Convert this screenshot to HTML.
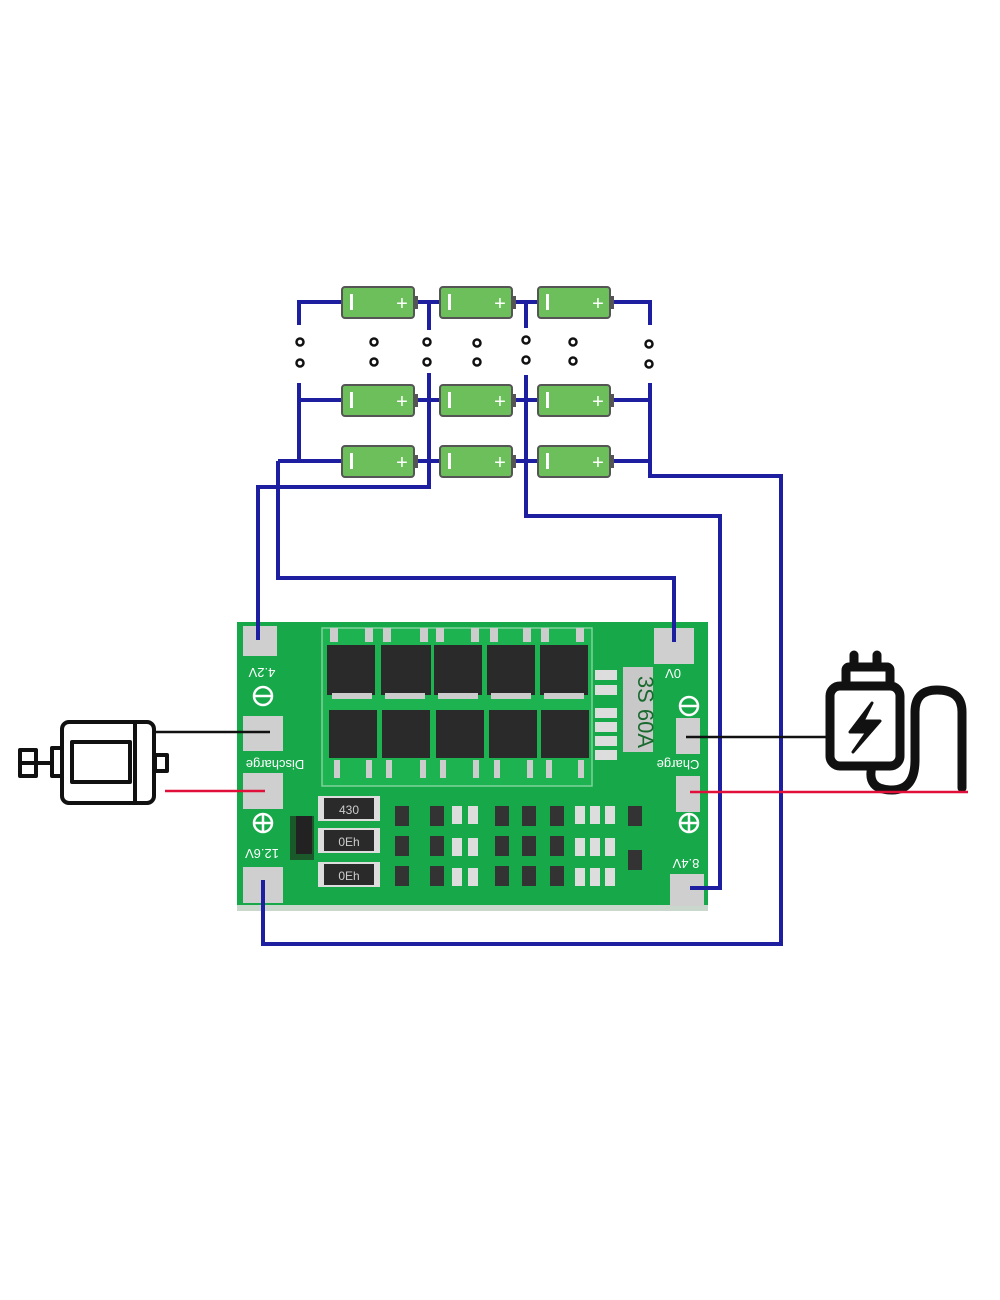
<!DOCTYPE html>
<html><head><meta charset="utf-8"><style>body{margin:0;background:#fff}svg{display:block}</style></head><body>
<svg width="1000" height="1300" viewBox="0 0 1000 1300" xmlns="http://www.w3.org/2000/svg" font-family="Liberation Sans, sans-serif">
<!-- board -->
<rect x="237" y="622" width="471" height="288" fill="#17a84a"/>
<rect x="237" y="905" width="471" height="6" fill="#c9d7cc"/>
<rect x="322" y="628" width="270" height="158" fill="#1db350" stroke="#7fd39a" stroke-width="1.5"/>
<g fill="#2a2a2a">
<rect x="327" y="645" width="48" height="50"/><rect x="381" y="645" width="50" height="50"/><rect x="434" y="645" width="48" height="50"/><rect x="487" y="645" width="48" height="50"/><rect x="540" y="645" width="48" height="50"/>
<rect x="329" y="710" width="48" height="48"/><rect x="382" y="710" width="48" height="48"/><rect x="436" y="710" width="48" height="48"/><rect x="489" y="710" width="48" height="48"/><rect x="541" y="710" width="48" height="48"/>
</g>
<g fill="#ccc"><rect x="332" y="693" width="40" height="6"/><rect x="385" y="693" width="40" height="6"/><rect x="438" y="693" width="40" height="6"/><rect x="491" y="693" width="40" height="6"/><rect x="544" y="693" width="40" height="6"/>
<rect x="330" y="628" width="8" height="14"/><rect x="365" y="628" width="8" height="14"/><rect x="383" y="628" width="8" height="14"/><rect x="420" y="628" width="8" height="14"/><rect x="436" y="628" width="8" height="14"/><rect x="471" y="628" width="8" height="14"/><rect x="490" y="628" width="8" height="14"/><rect x="523" y="628" width="8" height="14"/><rect x="541" y="628" width="8" height="14"/><rect x="576" y="628" width="8" height="14"/>
<rect x="334" y="760" width="6" height="18"/><rect x="366" y="760" width="6" height="18"/><rect x="386" y="760" width="6" height="18"/><rect x="420" y="760" width="6" height="18"/><rect x="440" y="760" width="6" height="18"/><rect x="473" y="760" width="6" height="18"/><rect x="494" y="760" width="6" height="18"/><rect x="527" y="760" width="6" height="18"/><rect x="546" y="760" width="6" height="18"/><rect x="578" y="760" width="6" height="18"/></g>
<g><rect x="318" y="796" width="62" height="25" fill="#ddd"/><rect x="324" y="798" width="50" height="21" fill="#2a2a2a"/>
<rect x="318" y="828" width="62" height="25" fill="#ddd"/><rect x="324" y="830" width="50" height="21" fill="#2a2a2a"/>
<rect x="318" y="862" width="62" height="25" fill="#ddd"/><rect x="324" y="864" width="50" height="21" fill="#2a2a2a"/>
<text x="349" y="814" fill="#ccc" font-size="12" text-anchor="middle">430</text><text x="349" y="846" fill="#ccc" font-size="12" text-anchor="middle">0Eh</text><text x="349" y="880" fill="#ccc" font-size="12" text-anchor="middle">0Eh</text></g>
<rect x="290" y="816" width="24" height="44" fill="#1a5a2a"/><rect x="296" y="816" width="16" height="38" fill="#222"/>
<g fill="#333"><rect x="395" y="806" width="14" height="20"/><rect x="430" y="806" width="14" height="20"/><rect x="495" y="806" width="14" height="20"/><rect x="522" y="806" width="14" height="20"/><rect x="550" y="806" width="14" height="20"/><rect x="628" y="806" width="14" height="20"/>
<rect x="395" y="836" width="14" height="20"/><rect x="430" y="836" width="14" height="20"/><rect x="495" y="836" width="14" height="20"/><rect x="522" y="836" width="14" height="20"/><rect x="550" y="836" width="14" height="20"/><rect x="628" y="850" width="14" height="20"/>
<rect x="395" y="866" width="14" height="20"/><rect x="430" y="866" width="14" height="20"/><rect x="495" y="866" width="14" height="20"/><rect x="522" y="866" width="14" height="20"/><rect x="550" y="866" width="14" height="20"/></g>
<g fill="#ddd"><rect x="452" y="806" width="10" height="18"/><rect x="468" y="806" width="10" height="18"/><rect x="575" y="806" width="10" height="18"/><rect x="590" y="806" width="10" height="18"/><rect x="605" y="806" width="10" height="18"/>
<rect x="452" y="838" width="10" height="18"/><rect x="468" y="838" width="10" height="18"/><rect x="575" y="838" width="10" height="18"/><rect x="590" y="838" width="10" height="18"/><rect x="605" y="838" width="10" height="18"/>
<rect x="452" y="868" width="10" height="18"/><rect x="468" y="868" width="10" height="18"/><rect x="575" y="868" width="10" height="18"/><rect x="590" y="868" width="10" height="18"/><rect x="605" y="868" width="10" height="18"/>
<rect x="595" y="670" width="22" height="10"/><rect x="595" y="685" width="22" height="10"/><rect x="595" y="708" width="22" height="10"/><rect x="595" y="722" width="22" height="10"/><rect x="595" y="736" width="22" height="10"/><rect x="595" y="750" width="22" height="10"/></g>
<rect x="623" y="667" width="30" height="85" fill="#c8c8c8"/>
<text x="638" y="712" font-size="22" fill="#1a6a30" text-anchor="middle" transform="rotate(90 638 712)">3S 60A</text>
<g fill="#cfcfcf"><rect x="243" y="626" width="34" height="30"/><rect x="243" y="716" width="40" height="35"/><rect x="243" y="773" width="40" height="36"/><rect x="243" y="867" width="40" height="36"/>
<rect x="654" y="628" width="40" height="36"/><rect x="676" y="718" width="24" height="36"/><rect x="676" y="776" width="24" height="36"/><rect x="670" y="874" width="34" height="32"/></g>
<g fill="#fff" font-size="13"><text x="262" y="660" transform="rotate(180 262 664)" text-anchor="middle">4.2V</text>
<text x="275" y="768" transform="rotate(180 275 764)" text-anchor="middle">Discharge</text>
<text x="262" y="857" transform="rotate(180 262 853)" text-anchor="middle">12.6V</text>
<text x="673" y="677" transform="rotate(180 673 673)" text-anchor="middle">0V</text>
<text x="678" y="768" transform="rotate(180 678 764)" text-anchor="middle">Charge</text>
<text x="686" y="867" transform="rotate(180 686 863)" text-anchor="middle">8.4V</text></g>
<g stroke="#fff" stroke-width="2.5" fill="none"><circle cx="263" cy="696" r="9"/><line x1="254" y1="696" x2="272" y2="696"/>
<circle cx="263" cy="823" r="9"/><line x1="254" y1="823" x2="272" y2="823"/><line x1="263" y1="814" x2="263" y2="832"/>
<circle cx="689" cy="706" r="9"/><line x1="680" y1="706" x2="698" y2="706"/>
<circle cx="689" cy="823" r="9"/><line x1="680" y1="823" x2="698" y2="823"/><line x1="689" y1="814" x2="689" y2="832"/></g>
<g stroke="#1e1ea0" stroke-width="4" fill="none">
<polyline points="299,325 299,302 650,302 650,325"/>
<polyline points="299,383 299,461"/><polyline points="299,400 650,400"/><polyline points="650,383 650,476 781,476 781,944 263,944 263,880"/>
<polyline points="278,461 650,461"/>
<polyline points="429,302 429,330"/><polyline points="429,373 429,487 258,487 258,640"/>
<polyline points="526,302 526,328"/><polyline points="526,375 526,516 720,516 720,888 690,888"/>
<polyline points="278,461 278,578 674,578 674,642"/>
</g>
<g>
<g id="b"><rect x="342" y="287" width="72" height="31" rx="3" fill="#6cbf5b" stroke="#555" stroke-width="2"/><rect x="414" y="296" width="4" height="13" fill="#555"/><rect x="350" y="294" width="3" height="16" fill="#fff"/><text x="402" y="310" font-size="20" fill="#fff" text-anchor="middle">+</text></g>
<use href="#b" x="98"/><use href="#b" x="196"/>
<use href="#b" y="98"/><use href="#b" x="98" y="98"/><use href="#b" x="196" y="98"/>
<use href="#b" y="159"/><use href="#b" x="98" y="159"/><use href="#b" x="196" y="159"/>
</g>
<g stroke="#111" stroke-width="2.5" fill="#fff">
<circle cx="300" cy="342" r="3.5"/><circle cx="300" cy="363" r="3.5"/><circle cx="374" cy="342" r="3.5"/><circle cx="374" cy="362" r="3.5"/><circle cx="427" cy="342" r="3.5"/><circle cx="427" cy="362" r="3.5"/><circle cx="477" cy="343" r="3.5"/><circle cx="477" cy="362" r="3.5"/><circle cx="526" cy="340" r="3.5"/><circle cx="526" cy="360" r="3.5"/><circle cx="573" cy="342" r="3.5"/><circle cx="573" cy="361" r="3.5"/><circle cx="649" cy="344" r="3.5"/><circle cx="649" cy="364" r="3.5"/></g>
<!-- motor -->
<g stroke="#111" stroke-width="4" fill="none" stroke-linejoin="round">
<rect x="62" y="722" width="92" height="81" rx="7"/><rect x="72" y="742" width="58" height="40"/><line x1="135" y1="722" x2="135" y2="803"/>
<rect x="52" y="748" width="10" height="28"/><line x1="36" y1="763" x2="52" y2="763"/><rect x="20" y="750" width="16" height="26"/><line x1="20" y1="763" x2="36" y2="763"/><rect x="155" y="755" width="12" height="16"/></g>
<line x1="155" y1="732" x2="270" y2="732" stroke="#111" stroke-width="2.5"/>
<line x1="165" y1="791" x2="265" y2="791" stroke="#e0103a" stroke-width="2.5"/>
<!-- charger -->
<g stroke="#111" stroke-width="9" fill="none" stroke-linejoin="round" stroke-linecap="round">
<rect x="830" y="686" width="70" height="80" rx="10"/><rect x="846" y="667" width="44" height="19" rx="3"/>
<line x1="854" y1="655" x2="854" y2="667"/><line x1="877" y1="655" x2="877" y2="667"/>
<path d="M872 766 Q866 790 892 790 Q915 790 915 760 L915 712 Q915 690 937 690 Q962 690 962 712 L962 788"/></g>
<path d="M872 703 L850 732 L867 732 L853 752 L880 721 L863 721 Z" fill="#111" stroke="#111" stroke-width="3" stroke-linejoin="round"/>
<line x1="686" y1="737" x2="830" y2="737" stroke="#111" stroke-width="2.5"/>
<line x1="690" y1="792" x2="968" y2="792" stroke="#e0103a" stroke-width="2.5"/>
</svg>
</body></html>
